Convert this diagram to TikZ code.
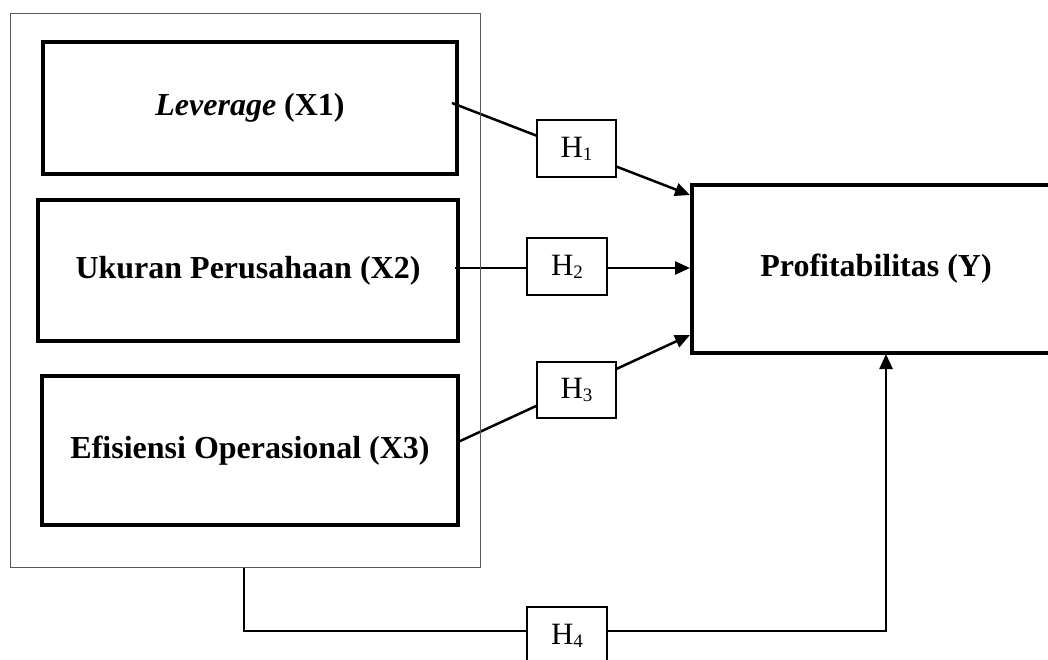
\documentclass[tikz,border=0pt]{standalone}
\usepackage{fontspec}
\setmainfont{Liberation Serif}
\usetikzlibrary{arrows.meta,backgrounds}
\newcommand{\hlab}[1]{H\raisebox{-3pt}{\fontsize{19}{19}\selectfont #1}}
\tikzset{
  varbox/.style={draw, line width=3.5pt, minimum width=#1, inner sep=0pt, font=\fontsize{32}{36}\selectfont\bfseries},
  hbox/.style={draw, fill=white, line width=1.5pt, minimum width=80pt, minimum height=57pt, inner sep=0pt, font=\fontsize{31}{34}\selectfont},
  arr/.style={line width=2.5pt, -{Triangle[length=15pt,width=13pt]}},
}
\begin{document}
\begin{tikzpicture}[x=1pt,y=-1pt]
\useasboundingbox (0,0) rectangle (1048,659);
\clip (0,0) rectangle (1048,659);
% outer frame
\node[draw=black!65, line width=1pt, minimum width=470pt, minimum height=554pt, inner sep=0pt] (outer) at (245,290) {};
% variable boxes
\node[varbox=414pt, minimum height=132pt] (x1) at (250,108) {\textit{Leverage} (X1)};
\node[varbox=420pt, minimum height=141pt] (x2) at (248,270.5) {Ukuran Perusahaan (X2)};
\node[varbox=416pt, minimum height=149pt] (x3) at (250,450.5) {Efisiensi Operasional (X3)};
\node[varbox=368pt, minimum height=168pt] (y) at (876,269) {Profitabilitas (Y)};
% hypothesis boxes
\node[hbox, minimum width=79pt] (h1) at (576.5,148.5) {\hlab{1}};
\node[hbox] (h2) at (567,266.5) {\hlab{2}};
\node[hbox, minimum width=79pt, minimum height=56pt] (h3) at (576.5,390) {\hlab{3}};
\node[hbox] (h4) at (567,635.5) {\hlab{4}};
% connector end points
\coordinate (s1) at (452,103);
\coordinate (e1) at (690,195);
\coordinate (s2) at (455,268);
\coordinate (e2) at (690,268);
\coordinate (s3) at (458,442);
\coordinate (e3) at (690,335);
\coordinate (s4) at (244,567);
\coordinate (c4) at (244,631);
\coordinate (d4) at (886,631);
\coordinate (e4) at (886,354);
\begin{pgfonlayer}{background}
\draw[arr] (s1) -- (e1);
\draw[arr] (s2) -- (e2);
\draw[arr] (s3) -- (e3);
\draw[arr] (s4) -- (c4) -- (d4) -- (e4);
\end{pgfonlayer}
\end{tikzpicture}
\end{document}
